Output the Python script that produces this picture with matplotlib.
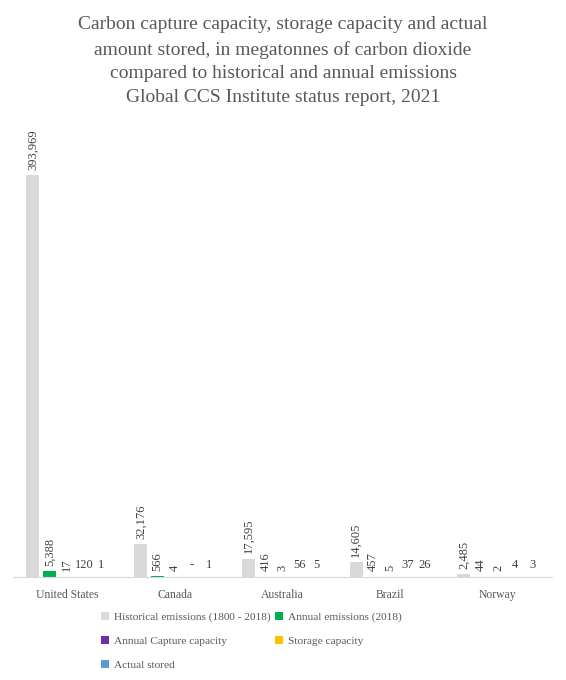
import numpy as np
import matplotlib
matplotlib.use("Agg")
from matplotlib import pyplot as plt

plt.rcParams['font.family'] = ['Liberation Serif', 'DejaVu Serif']

countries = ["United States", "Canada", "Australia", "Brazil", "Norway"]
historical = [393969, 32176, 17595, 14605, 2485]
annual = [5388, 566, 416, 457, 44]
capture = [17, 4, 3, 5, 2]
storage = [120, 0, 56, 37, 4]
stored = [1, 1, 5, 26, 3]

series = [
    ("Historical emissions (1800 - 2018)", historical, "#d9d9d9", 90),
    ("Annual emissions (2018)", annual, "#00b050", 90),
    ("Annual Capture capacity", capture, "#7030a0", 90),
    ("Storage capacity", storage, "#ffc000", 0),
    ("Actual stored", stored, "#5b9bd5", 0),
]

text_col = "#595959"

fig = plt.figure(figsize=(5.66, 6.8), dpi=100)
ax = fig.add_axes([0.023, 0.1515, 0.952, 0.675])

x = np.arange(len(countries))
step = 0.158
width = 0.12
handles = []
for j, (name, vals, col, rot) in enumerate(series):
    pos = x + (j - 2) * step
    bars = ax.bar(pos, vals, width, color=col, label=name)
    handles.append(bars)
    for p, v in zip(pos, vals):
        lab = "-" if v == 0 else f"{v:,}"
        ax.annotate(lab, (p, v), xytext=(0, 4), textcoords="offset points",
                    ha="center", va="bottom", rotation=rot,
                    fontsize=9, color="#404040")

ax.set_xlim(-0.5, len(countries) - 0.5)
ax.set_ylim(0, 450000)
ax.set_xticks(x)
ax.set_xticklabels(countries, fontsize=8.4, color=text_col)
ax.tick_params(axis="x", length=0, pad=9)
ax.set_yticks([])
for s in ["top", "right", "left"]:
    ax.spines[s].set_visible(False)
ax.spines["bottom"].set_color("#d9d9d9")

fig.text(0.5, 0.976,
         "Carbon capture capacity, storage capacity and actual\n"
         "amount stored, in megatonnes of carbon dioxide\n"
         "compared to historical and annual emissions\n"
         "Global CCS Institute status report, 2021",
         ha="center", va="top", fontsize=14, color=text_col, linespacing=1.53)

order = [0, 2, 4, 1, 3]
leg = fig.legend([handles[i] for i in order], [series[i][0] for i in order],
                 ncol=2, loc="upper left", bbox_to_anchor=(0.161, 0.1147),
                 frameon=False, fontsize=8.2, handlelength=0.7, handleheight=0.7,
                 handletextpad=0.4, columnspacing=0.4, labelspacing=1.2,
                 labelcolor=text_col)

fig.savefig("out.png", dpi=100)
